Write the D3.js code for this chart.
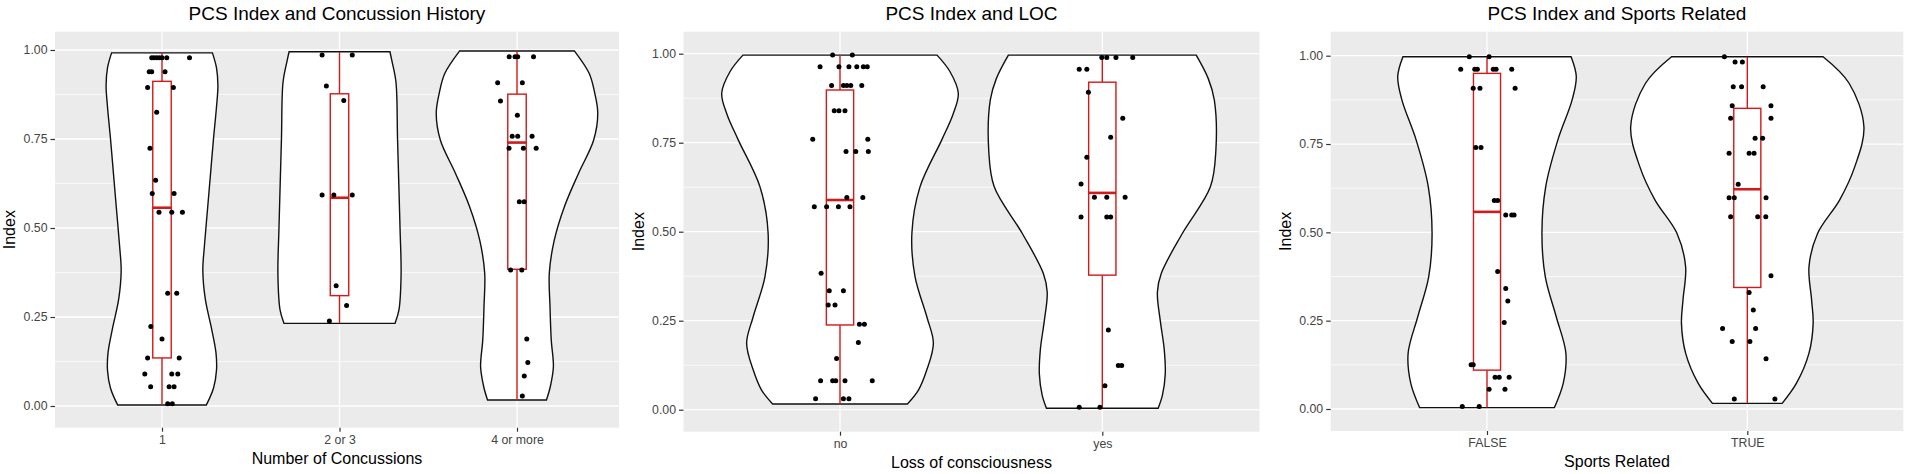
<!DOCTYPE html>
<html>
<head>
<meta charset="utf-8">
<script src="https://cdn.jsdelivr.net/npm/d3@7"></script>
<style>
  body { margin: 0; background: #fff; }
  svg { display: block; font-family: "Liberation Sans", Arial, Helvetica, sans-serif; }
</style>
</head>
<body>
<svg id="chart" width="1908" height="474"></svg>
<script>
// ---- data ----
const yTicks = [0, 0.25, 0.5, 0.75, 1];
const yMinor = [0.125, 0.375, 0.625, 0.875];

const concussionCats = ["1", "2 or 3", "4 or more"];
const locCats = ["no", "yes"];
const sportsCats = ["FALSE", "TRUE"];

// violin half-widths: [index value, half width in category units]
const violinConcussion = [
  [[0.992,0.284],[0.95,0.307],[0.90,0.315],[0.84,0.307],[0.75,0.290],[0.65,0.273],[0.55,0.256],[0.45,0.239],
   [0.38,0.230],[0.30,0.244],[0.22,0.278],[0.15,0.304],[0.10,0.307],[0.05,0.290],[0.003,0.25]],
  [[0.995,0.284],[0.97,0.295],[0.91,0.318],[0.75,0.327],[0.50,0.341],[0.37,0.347],[0.27,0.335],[0.232,0.3125]],
  [[0.997,0.324],[0.934,0.407],[0.88,0.4375],[0.822,0.455],[0.747,0.432],[0.654,0.347],[0.56,0.267],[0.466,0.210],
   [0.373,0.182],[0.279,0.186],[0.185,0.193],[0.11,0.205],[0.054,0.1875],[0.017,0.166]]
];
const violinLoc = [
  [[0.996,0.370],[0.95,0.419],[0.889,0.451],[0.83,0.431],[0.758,0.388],[0.626,0.305],[0.495,0.274],[0.374,0.286],
   [0.261,0.331],[0.187,0.356],[0.112,0.331],[0.055,0.299],[0.016,0.257]],
  [[0.996,0.358],[0.93,0.404],[0.870,0.427],[0.729,0.433],[0.626,0.412],[0.495,0.305],[0.383,0.225],[0.33,0.210],
   [0.25,0.221],[0.17,0.236],[0.10,0.240],[0.04,0.229],[0.004,0.213]]
];
const violinSports = [
  [[0.997,0.323],[0.941,0.343],[0.875,0.327],[0.761,0.272],[0.629,0.2255],[0.497,0.211],[0.374,0.224],
   [0.261,0.266],[0.158,0.303],[0.073,0.293],[0.004,0.259]],
  [[0.997,0.291],[0.922,0.391],[0.799,0.448],[0.686,0.413],[0.592,0.355],[0.497,0.270],[0.403,0.237],
   [0.309,0.247],[0.243,0.253],[0.158,0.237],[0.073,0.189],[0.016,0.134]]
];

// box stats: [lower whisker, Q1, median, Q3, upper whisker]
const boxConcussion = [[0.003,0.135,0.557,0.912,0.992],[0.232,0.310,0.585,0.877,0.995],[0.017,0.384,0.740,0.876,0.997]];
const boxLoc = [[0.016,0.238,0.589,0.898,0.996],[0.004,0.378,0.609,0.920,0.996]];
const boxSports = [[0.004,0.110,0.558,0.950,0.997],[0.016,0.344,0.622,0.851,0.997]];

// jittered points: [index value, horizontal jitter in category units]
const pointsConcussion = [
  [[0.978,-0.058],[0.978,-0.045],[0.978,-0.030],[0.978,-0.015],[0.978,0.0],[0.978,0.027],[0.978,0.155],
   [0.939,-0.072],[0.939,-0.058],[0.939,0.017],[0.895,-0.081],[0.895,0.064],[0.825,-0.030],[0.724,-0.068],
   [0.634,-0.036],[0.597,-0.055],[0.597,0.068],[0.544,-0.017],[0.544,0.055],[0.544,0.115],[0.317,0.032],
   [0.317,0.083],[0.223,-0.063],[0.188,0.0],[0.135,-0.081],[0.135,0.097],[0.090,-0.097],[0.090,0.055],
   [0.090,0.089],[0.054,-0.064],[0.054,0.040],[0.054,0.068],[0.006,0.032],[0.006,0.058]],
  [[0.986,-0.098],[0.986,0.072],[0.899,-0.074],[0.858,0.024],[0.593,-0.098],[0.593,-0.032],[0.593,0.072],
   [0.338,-0.019],[0.282,0.040],[0.239,-0.057]],
  [[0.981,-0.044],[0.981,-0.011],[0.981,0.004],[0.981,0.093],[0.908,-0.109],[0.908,0.030],[0.857,-0.093],
   [0.817,0.002],[0.758,-0.027],[0.758,0.004],[0.758,0.085],[0.724,-0.045],[0.724,0.036],[0.724,0.108],
   [0.574,0.013],[0.574,0.040],[0.382,-0.036],[0.382,0.027],[0.188,0.055],[0.122,0.061],[0.084,0.041],[0.028,0.030]]
];
const pointsLoc = [
  [[0.996,-0.028],[0.996,0.047],[0.963,-0.076],[0.963,-0.004],[0.963,0.034],[0.963,0.064],[0.963,0.089],[0.963,0.104],
   [0.911,-0.032],[0.911,0.013],[0.911,0.026],[0.911,0.041],[0.911,0.083],[0.84,-0.022],[0.84,-0.004],[0.84,0.019],
   [0.760,-0.104],[0.760,0.106],[0.725,0.023],[0.725,0.060],[0.725,0.108],[0.596,0.026],[0.596,0.087],
   [0.570,-0.098],[0.570,-0.051],[0.570,-0.006],[0.570,0.038],[0.383,-0.072],[0.334,-0.041],[0.334,0.013],
   [0.294,-0.045],[0.294,-0.019],[0.240,0.074],[0.240,0.093],[0.189,0.070],[0.144,-0.013],[0.081,-0.074],
   [0.081,-0.028],[0.081,-0.016],[0.081,0.019],[0.081,0.123],[0.031,-0.093],[0.031,0.013],[0.031,0.034]],
  [[0.989,-0.002],[0.989,0.017],[0.989,0.052],[0.989,0.116],[0.956,-0.088],[0.956,-0.059],[0.892,-0.053],
   [0.819,0.078],[0.765,0.032],[0.709,-0.059],[0.634,-0.081],[0.597,-0.030],[0.597,0.017],[0.597,0.087],
   [0.541,-0.081],[0.541,0.017],[0.541,0.032],[0.224,0.023],[0.124,0.061],[0.124,0.074],[0.067,0.010],
   [0.007,-0.088],[0.007,-0.009]]
];
const pointsSports = [
  [[0.997,-0.068],[0.997,0.008],[0.962,-0.101],[0.962,-0.047],[0.962,-0.037],[0.962,0.024],[0.962,0.035],
   [0.962,0.095],[0.908,-0.053],[0.908,-0.027],[0.908,0.108],[0.740,-0.043],[0.740,-0.023],[0.590,0.028],
   [0.590,0.041],[0.549,0.072],[0.549,0.095],[0.549,0.104],[0.389,0.041],[0.341,0.072],[0.306,0.080],
   [0.245,0.066],[0.125,-0.061],[0.125,-0.053],[0.090,0.031],[0.090,0.047],[0.090,0.085],[0.056,0.008],
   [0.056,0.069],[0.007,-0.095],[0.007,-0.030]],
  [[0.997,-0.088],[0.982,-0.047],[0.982,-0.019],[0.912,-0.054],[0.912,-0.022],[0.912,0.061],[0.858,-0.058],
   [0.858,0.091],[0.823,-0.064],[0.823,0.091],[0.766,0.030],[0.766,0.059],[0.724,-0.070],[0.724,0.007],
   [0.724,0.026],[0.636,-0.035],[0.598,-0.070],[0.598,-0.050],[0.598,0.072],[0.544,-0.064],[0.544,0.040],
   [0.544,0.071],[0.377,0.091],[0.330,0.007],[0.280,0.023],[0.228,-0.095],[0.228,0.032],[0.191,-0.058],
   [0.191,0.010],[0.142,0.072],[0.028,-0.050],[0.028,0.106]]
];

// ---- panel layout (each panel is its own ggplot) ----
const panels = [
  { title: "PCS Index and Concussion History", xLabel: "Number of Concussions",
    cats: concussionCats, violins: violinConcussion, boxes: boxConcussion, points: pointsConcussion,
    left: 55, right: 619, top: 31.7, bottom: 427.7, yOne: 50, yZero: 406, xFirst: 162, xLast: 517 },
  { title: "PCS Index and LOC", xLabel: "Loss of consciousness",
    cats: locCats, violins: violinLoc, boxes: boxLoc, points: pointsLoc,
    left: 683.5, right: 1259.5, top: 31.7, bottom: 431.7, yOne: 53.7, yZero: 409.7, xFirst: 840, xLast: 1102.3 },
  { title: "PCS Index and Sports Related", xLabel: "Sports Related",
    cats: sportsCats, violins: violinSports, boxes: boxSports, points: pointsSports,
    left: 1330.7, right: 1903.3, top: 31.7, bottom: 431, yOne: 55.7, yZero: 409, xFirst: 1487, xLast: 1747.3 }
];

const boxRed = "#d11a1a";
const svg = d3.select("#chart");

panels.forEach(p => {
  const g = svg.append("g");

  const x = d3.scalePoint().domain(p.cats).range([p.xFirst, p.xLast]);
  const step = x.step();
  const y = d3.scaleLinear().domain([0, 1]).range([p.yZero, p.yOne]);

  // panel background
  g.append("rect")
      .attr("x", p.left).attr("y", p.top)
      .attr("width", p.right - p.left).attr("height", p.bottom - p.top)
      .attr("fill", "#ebebeb");

  // grid
  g.selectAll(".minor").data(yMinor).enter().append("line")
      .attr("x1", p.left).attr("x2", p.right)
      .attr("y1", d => y(d)).attr("y2", d => y(d))
      .attr("stroke", "#fff").attr("stroke-width", 0.7);
  g.selectAll(".major").data(yTicks).enter().append("line")
      .attr("x1", p.left).attr("x2", p.right)
      .attr("y1", d => y(d)).attr("y2", d => y(d))
      .attr("stroke", "#fff").attr("stroke-width", 1.3);
  g.selectAll(".vmajor").data(p.cats).enter().append("line")
      .attr("x1", d => x(d)).attr("x2", d => x(d))
      .attr("y1", p.top).attr("y2", p.bottom)
      .attr("stroke", "#fff").attr("stroke-width", 1.3);

  // violins
  p.cats.forEach((c, i) => {
    const cx = x(c);
    const area = d3.area()
        .y(d => y(d[0]))
        .x0(d => cx - d[1] * step)
        .x1(d => cx + d[1] * step)
        .curve(d3.curveCatmullRom);
    g.append("path")
        .datum(p.violins[i])
        .attr("d", area)
        .attr("fill", "#fff")
        .attr("stroke", "#111")
        .attr("stroke-width", 1.4);
  });

  // boxplots
  p.cats.forEach((c, i) => {
    const cx = x(c);
    const [lo, q1, med, q3, hi] = p.boxes[i];
    const hw = 0.052 * step;
    g.append("line").attr("x1", cx).attr("x2", cx).attr("y1", y(q3)).attr("y2", y(hi))
        .attr("stroke", boxRed).attr("stroke-width", 1.4);
    g.append("line").attr("x1", cx).attr("x2", cx).attr("y1", y(q1)).attr("y2", y(lo))
        .attr("stroke", boxRed).attr("stroke-width", 1.4);
    g.append("rect")
        .attr("x", cx - hw).attr("y", y(q3))
        .attr("width", hw * 2).attr("height", y(q1) - y(q3))
        .attr("fill", "#fff").attr("stroke", boxRed).attr("stroke-width", 1.4);
    g.append("line").attr("x1", cx - hw).attr("x2", cx + hw).attr("y1", y(med)).attr("y2", y(med))
        .attr("stroke", boxRed).attr("stroke-width", 2.6);
  });

  // jittered points
  p.cats.forEach((c, i) => {
    const cx = x(c);
    g.selectAll(null).data(p.points[i]).enter().append("circle")
        .attr("cx", d => cx + d[1] * step)
        .attr("cy", d => y(d[0]))
        .attr("r", 2.5)
        .attr("fill", "#000");
  });

  // axes
  const yAxis = g.append("g")
      .attr("transform", `translate(${p.left},0)`)
      .call(d3.axisLeft(y).tickValues(yTicks).tickFormat(d3.format(".2f")).tickSize(4.5).tickPadding(3));
  const xAxis = g.append("g")
      .attr("transform", `translate(0,${p.bottom})`)
      .call(d3.axisBottom(x).tickSize(4).tickPadding(3.5));
  [yAxis, xAxis].forEach(a => {
    a.select(".domain").remove();
    a.selectAll(".tick line").attr("stroke", "#333").attr("stroke-width", 1.2);
    a.selectAll(".tick text")
        .attr("fill", "#444")
        .style("font-size", "12.3px")
        .style("font-family", "\"Liberation Sans\", Arial, sans-serif");
  });

  const midX = (p.left + p.right) / 2;
  g.append("text")
      .attr("x", midX).attr("y", 19.5)
      .attr("text-anchor", "middle")
      .style("font-size", "19px")
      .text(p.title);

  g.append("text")
      .attr("x", midX).attr("y", p.bottom + 36)
      .attr("text-anchor", "middle")
      .style("font-size", "16px")
      .text(p.xLabel);

  g.append("text")
      .attr("transform", `translate(${p.left - 40},${(p.top + p.bottom) / 2}) rotate(-90)`)
      .attr("text-anchor", "middle")
      .style("font-size", "16px")
      .text("Index");
});
</script>
</body>
</html>
